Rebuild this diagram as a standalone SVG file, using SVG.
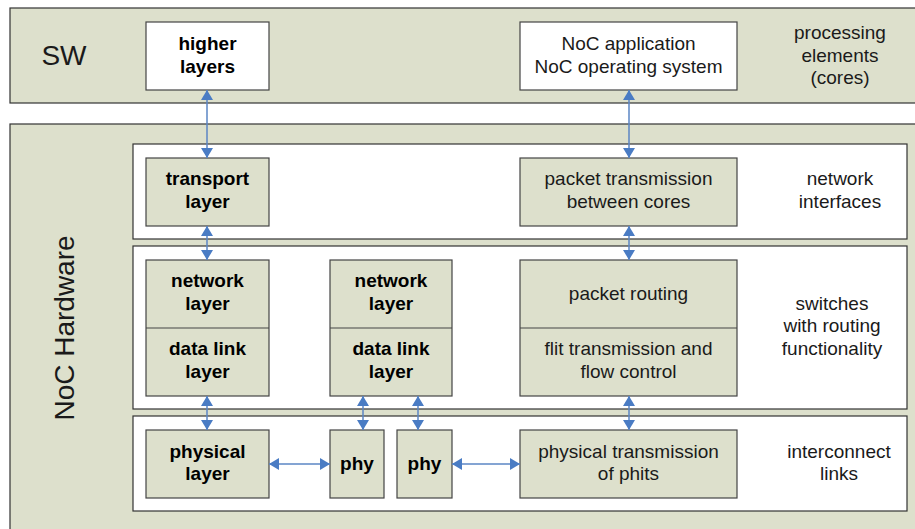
<svg xmlns="http://www.w3.org/2000/svg" width="915" height="529" viewBox="0 0 915 529">
<defs>
<style>
.band{fill:#dde0cc;stroke:#333;stroke-width:1.2}
.white{fill:#fff;stroke:#333;stroke-width:1.2}
.box{fill:#dde0cc;stroke:#444;stroke-width:1.2}
.wbox{fill:#fff;stroke:#444;stroke-width:1.2}
text{font-family:"Liberation Sans",Arial,sans-serif;fill:#1a1a1a;text-anchor:middle}
.b{font-weight:bold;font-size:19px;fill:#000}
.r{font-size:19px}
.big{font-size:28px}
.conn line{stroke:#5b86c5;stroke-width:1.5;marker-start:url(#ah);marker-end:url(#ah)}
</style>
<marker id="ah" viewBox="0 0 10 12" refX="10" refY="6" markerWidth="10" markerHeight="12" markerUnits="userSpaceOnUse" orient="auto-start-reverse">
<path d="M0,0 L10,6 L0,12 z" fill="#4a7cc4"/>
</marker>
</defs>

<g id="sw-band">
<rect class="band" x="10" y="8" width="912" height="95"/>
<text class="big" x="64" y="65" text-anchor="middle">SW</text>
<text class="r" x="840" y="39">processing</text>
<text class="r" x="840" y="62">elements</text>
<text class="r" x="840" y="84">(cores)</text>
</g>

<g id="hw-band">
<rect class="band" x="10" y="124" width="912" height="412"/>
<text class="big" transform="translate(74,328) rotate(-90)">NoC Hardware</text>
</g>

<g id="ni-band">
<rect class="white" x="133" y="144" width="774" height="95"/>
<text class="r" x="840" y="185">network</text>
<text class="r" x="840" y="208">interfaces</text>
</g>

<g id="switch-band">
<rect class="white" x="133" y="246" width="774" height="163"/>
<text class="r" x="832" y="310">switches</text>
<text class="r" x="832" y="332">with routing</text>
<text class="r" x="832" y="355">functionality</text>
</g>

<g id="link-band">
<rect class="white" x="133" y="416" width="774" height="95"/>
<text class="r" x="839" y="458">interconnect</text>
<text class="r" x="839" y="480">links</text>
</g>

<g id="higher-layers">
<rect class="wbox" x="146" y="22" width="123" height="68"/>
<text class="b" x="207.5" y="50">higher</text>
<text class="b" x="207.5" y="73">layers</text>
</g>

<g id="noc-app">
<rect class="wbox" x="520" y="22" width="217" height="68"/>
<text class="r" x="628.5" y="50">NoC application</text>
<text class="r" x="628.5" y="73">NoC operating system</text>
</g>

<g id="transport-layer">
<rect class="box" x="146" y="158" width="123" height="68"/>
<text class="b" x="207.5" y="185">transport</text>
<text class="b" x="207.5" y="208">layer</text>
</g>

<g id="packet-transmission">
<rect class="box" x="520" y="158" width="217" height="68"/>
<text class="r" x="628.5" y="185">packet transmission</text>
<text class="r" x="628.5" y="208">between cores</text>
</g>

<g id="switch-left">
<rect class="box" x="146" y="260" width="123" height="136"/>
<line x1="146" y1="328" x2="269" y2="328" stroke="#444" stroke-width="1.2"/>
<text class="b" x="207.5" y="287">network</text>
<text class="b" x="207.5" y="310">layer</text>
<text class="b" x="207.5" y="355">data link</text>
<text class="b" x="207.5" y="378">layer</text>
</g>

<g id="switch-mid">
<rect class="box" x="330" y="260" width="122" height="136"/>
<line x1="330" y1="328" x2="452" y2="328" stroke="#444" stroke-width="1.2"/>
<text class="b" x="391" y="287">network</text>
<text class="b" x="391" y="310">layer</text>
<text class="b" x="391" y="355">data link</text>
<text class="b" x="391" y="378">layer</text>
</g>

<g id="switch-right">
<rect class="box" x="520" y="260" width="217" height="136"/>
<line x1="520" y1="328" x2="737" y2="328" stroke="#444" stroke-width="1.2"/>
<text class="r" x="628.5" y="300">packet routing</text>
<text class="r" x="628.5" y="355">flit transmission and</text>
<text class="r" x="628.5" y="378">flow control</text>
</g>

<g id="physical-layer">
<rect class="box" x="146" y="430" width="123" height="68"/>
<text class="b" x="207.5" y="458">physical</text>
<text class="b" x="207.5" y="480">layer</text>
</g>

<g id="phy1">
<rect class="box" x="330" y="430" width="54" height="68"/>
<text class="b" x="357" y="470">phy</text>
</g>

<g id="phy2">
<rect class="box" x="397" y="430" width="55" height="68"/>
<text class="b" x="424.5" y="470">phy</text>
</g>

<g id="physical-transmission">
<rect class="box" x="520" y="430" width="217" height="68"/>
<text class="r" x="628.5" y="458">physical transmission</text>
<text class="r" x="628.5" y="480">of phits</text>
</g>

<g id="connectors" class="conn">
<line x1="207" y1="90" x2="207" y2="158"/>
<line x1="629" y1="90" x2="629" y2="158"/>
<line x1="207" y1="226" x2="207" y2="260"/>
<line x1="629" y1="226" x2="629" y2="260"/>
<line x1="207" y1="396" x2="207" y2="430"/>
<line x1="363" y1="396" x2="363" y2="430"/>
<line x1="418" y1="396" x2="418" y2="430"/>
<line x1="629" y1="396" x2="629" y2="430"/>
<line x1="269" y1="464" x2="330" y2="464"/>
<line x1="452" y1="464" x2="520" y2="464"/>
</g>
</svg>
